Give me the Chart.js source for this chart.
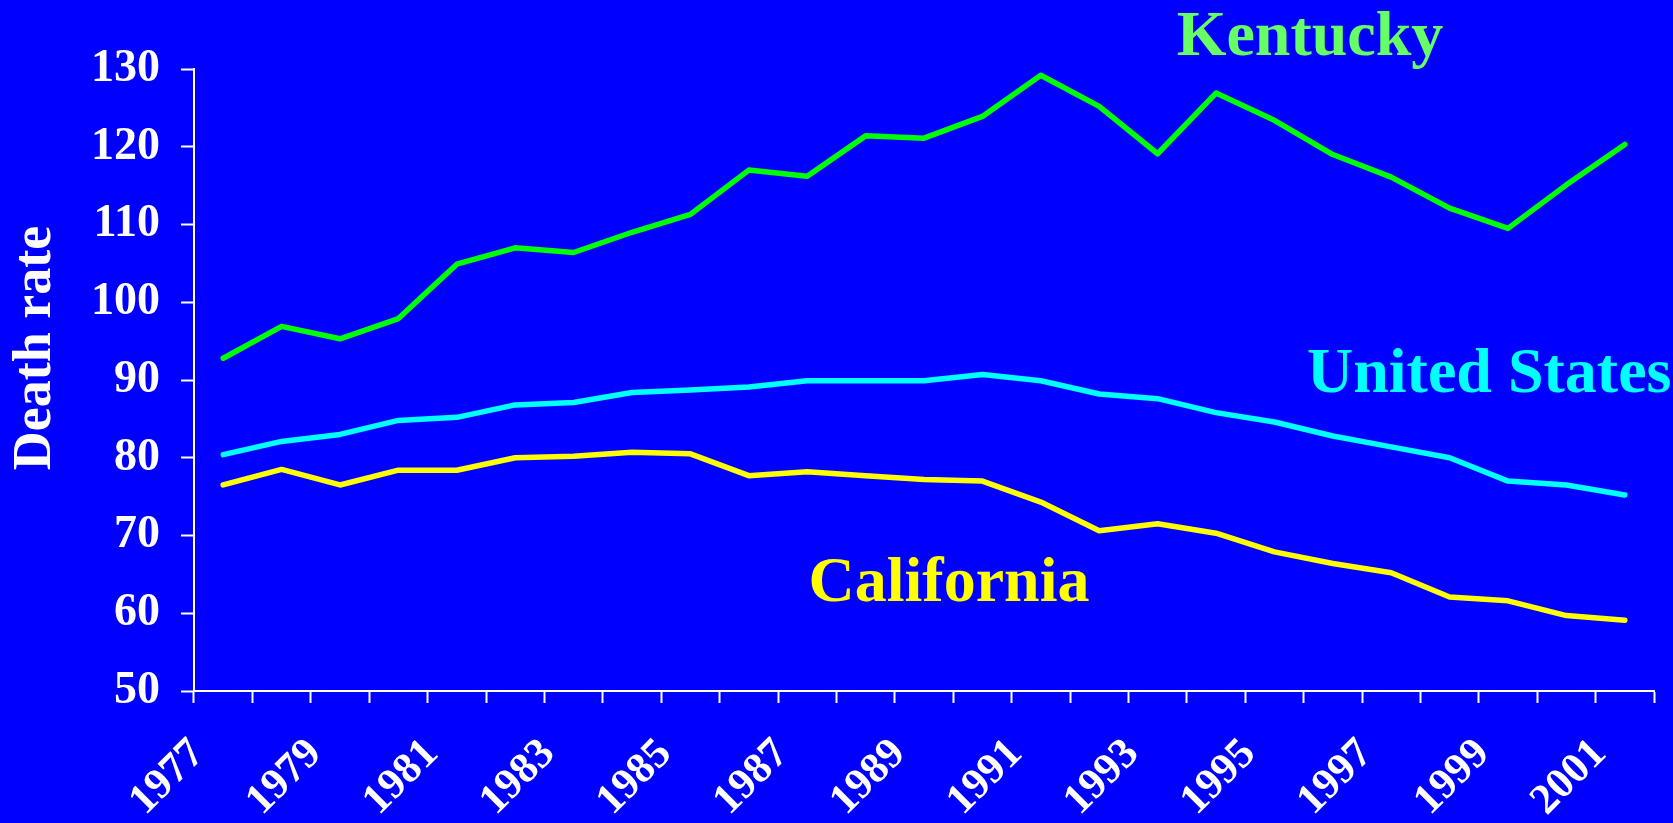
<!DOCTYPE html>
<html>
<head>
<meta charset="utf-8">
<title>Death rate</title>
<script src="https://cdn.jsdelivr.net/npm/chart.js@4.4.1/dist/chart.umd.min.js"></script>
<style>
    html, body { margin: 0; padding: 0; background: #0000ff; }
    #chartBox { position: relative; width: 1673px; height: 823px; }
</style>
</head>
<body>
<div id="chartBox"><canvas id="deathChart" width="1673" height="823"></canvas></div>
<script>
const years = ['1977', '1978', '1979', '1980', '1981', '1982', '1983', '1984', '1985', '1986', '1987', '1988', '1989',
    '1990', '1991', '1992', '1993', '1994', '1995', '1996', '1997', '1998', '1999', '2000', '2001'];
const shownYears = ['1977', '1979', '1981', '1983', '1985', '1987', '1989', '1991', '1993', '1995', '1997', '1999', '2001'];
const yTicks = [50, 60, 70, 80, 90, 100, 110, 120, 130];

const seriesNames = ['Kentucky', 'United States', 'California'];
const kentucky = [92.8, 96.9, 95.3, 97.9, 104.9, 107.0, 106.4, 109.0, 111.3, 117.0, 116.2, 121.4, 121.1,
    123.9, 129.2, 125.2, 119.1, 126.9, 123.4, 119.0, 116.1, 112.1, 109.5, 115.1, 120.3];
const unitedStates = [80.4, 82.1, 83.0, 84.8, 85.2, 86.8, 87.1, 88.4, 88.7, 89.1, 89.9, 89.9, 89.9,
    90.7, 89.9, 88.2, 87.6, 85.8, 84.6, 82.8, 81.4, 80.0, 77.0, 76.5, 75.2];
const california = [76.5, 78.5, 76.5, 78.4, 78.4, 80.0, 80.2, 80.7, 80.5, 77.7, 78.2, 77.7, 77.2,
    77.0, 74.3, 70.6, 71.5, 70.3, 67.9, 66.4, 65.2, 62.1, 61.6, 59.7, 59.1];

const lineColors = ['#00ff00', '#00ffff', '#ffff00'];
const nameColors = ['#66ff66', '#00ffff', '#ffff00'];
const serif = '"Liberation Serif", "Times New Roman", serif';

document.addEventListener('DOMContentLoaded', function() {
    // series names and the axis title are painted straight onto the canvas
    const chartText = {
        id: 'chartText',
        afterDraw(chart) {
            const ctx = chart.ctx;
            const spots = [
                { x: 1310, y: 55, align: 'center' },
                { x: 1307, y: 392, align: 'left' },
                { x: 949, y: 601, align: 'center' }
            ];
            ctx.save();
            ctx.font = 'bold 64px ' + serif;
            ctx.textBaseline = 'alphabetic';
            seriesNames.forEach((name, i) => {
                ctx.fillStyle = nameColors[i];
                ctx.textAlign = spots[i].align;
                ctx.fillText(name, spots[i].x, spots[i].y);
            });

            ctx.translate(50, 348);
            ctx.rotate(-Math.PI / 2);
            ctx.font = 'bold 54px ' + serif;
            ctx.fillStyle = '#ffffff';
            ctx.textAlign = 'center';
            ctx.fillText('Death rate', 0, 0);
            ctx.restore();
        }
    };

    const ctx = document.getElementById('deathChart').getContext('2d');
    new Chart(ctx, {
        type: 'line',
        data: {
            labels: years,
            datasets: [kentucky, unitedStates, california].map((values, i) => ({
                label: seriesNames[i],
                data: values,
                borderColor: lineColors[i],
                borderWidth: 5.5,
                borderJoinStyle: 'round',
                borderCapStyle: 'round',
                pointRadius: 0,
                tension: 0,
                fill: false
            }))
        },
        options: {
            responsive: false,
            animation: false,
            events: [],
            layout: { padding: { top: 69, right: 19, bottom: 0, left: 0 } },
            plugins: {
                legend: { display: false },
                tooltip: { enabled: false }
            },
            scales: {
                x: {
                    type: 'category',
                    offset: true,
                    grid: {
                        offset: true,
                        drawOnChartArea: false,
                        tickLength: 12,
                        tickWidth: 2,
                        tickColor: '#ffffff'
                    },
                    border: { color: '#ffffff', width: 2 },
                    ticks: {
                        autoSkip: false,
                        minRotation: 45,
                        maxRotation: 45,
                        padding: 26,
                        labelOffset: -25,
                        color: '#ffffff',
                        font: { family: serif, size: 43, weight: 'bold' },
                        callback: function(value) {
                            const year = this.getLabelForValue(value);
                            return shownYears.includes(year) ? year : '';
                        }
                    },
                    afterFit: scale => {
                        scale.height = 132;
                        scale.paddingLeft = 0;
                        scale.paddingRight = 0;
                    }
                },
                y: {
                    min: 50,
                    max: 130,
                    afterBuildTicks: scale => { scale.ticks = yTicks.map(v => ({ value: v })); },
                    grid: {
                        drawOnChartArea: false,
                        tickLength: 13,
                        tickWidth: 2,
                        tickColor: '#ffffff'
                    },
                    border: { color: '#ffffff', width: 2 },
                    ticks: {
                        padding: 21,
                        color: '#ffffff',
                        font: { family: serif, size: 46, weight: 'bold' }
                    },
                    afterFit: scale => { scale.width = 194; }
                }
            }
        },
        plugins: [chartText]
    });
});
</script>
</body>
</html>
